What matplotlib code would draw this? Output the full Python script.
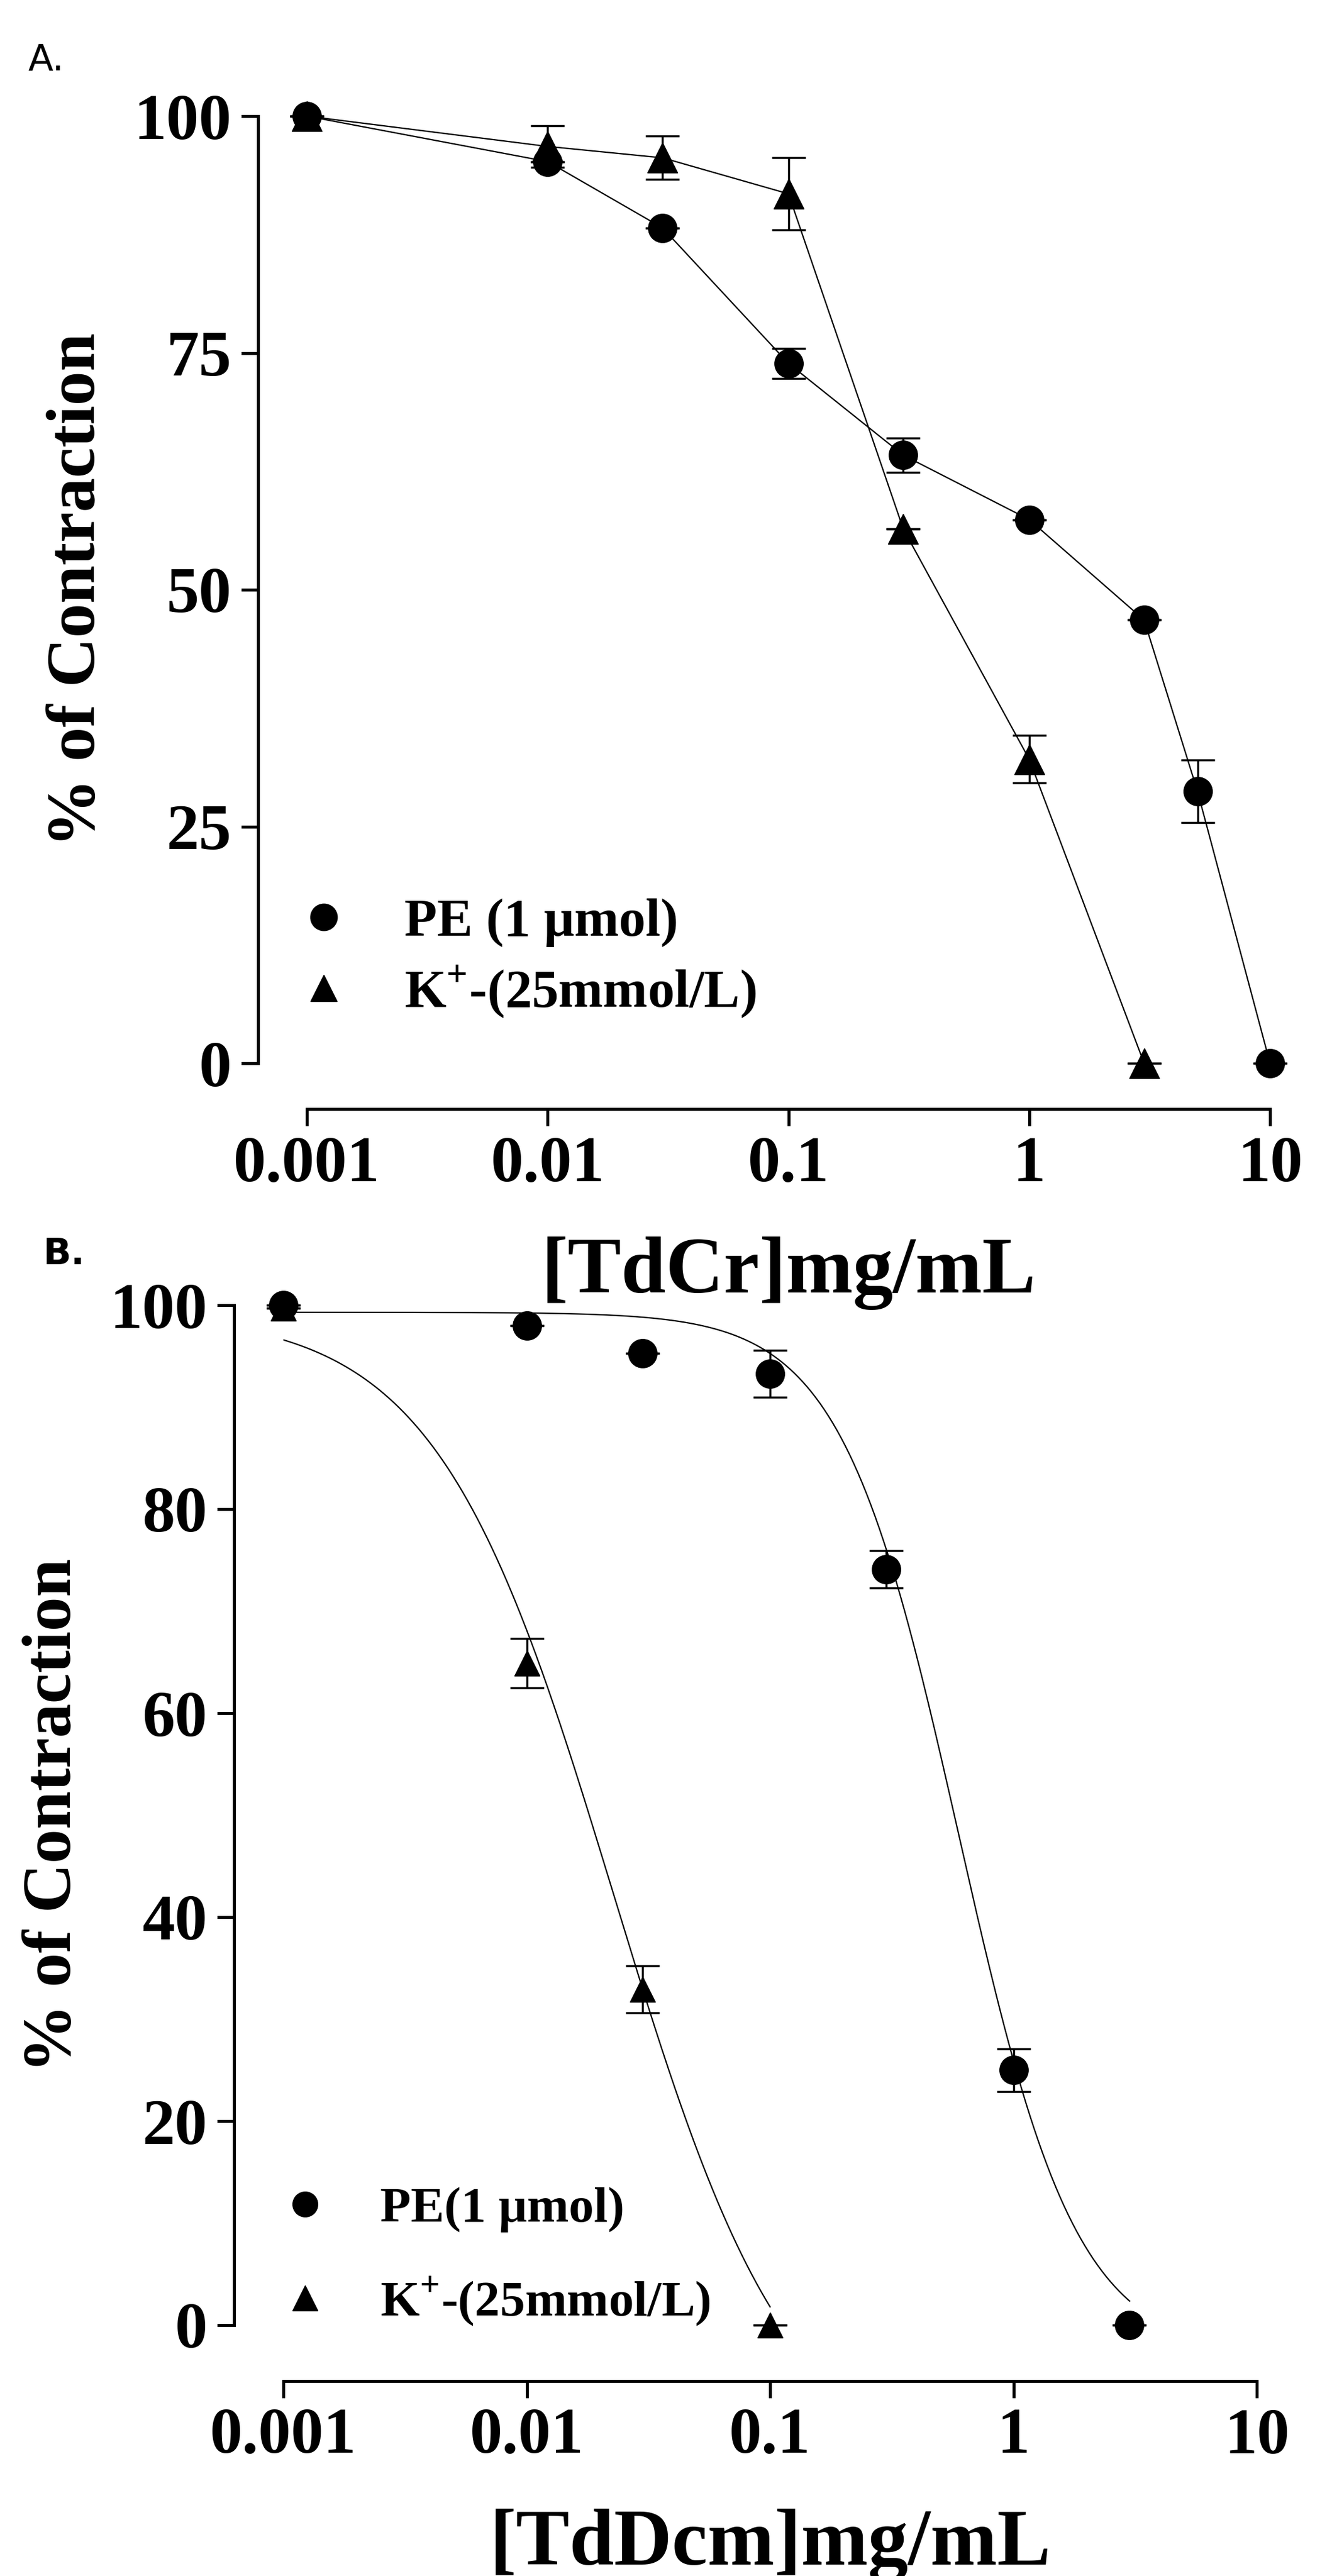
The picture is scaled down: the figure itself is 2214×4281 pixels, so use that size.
import numpy as np
import matplotlib
matplotlib.use("Agg")
import matplotlib.pyplot as plt

plt.rcParams['font.family'] = ['Liberation Serif', 'DejaVu Serif']
plt.rcParams['font.weight'] = 'bold'
plt.rcParams['mathtext.fontset'] = 'custom'
plt.rcParams['mathtext.rm'] = 'Liberation Serif:bold'
plt.rcParams['mathtext.bf'] = 'Liberation Serif:bold'

# Panel A data
a_pe_x = [0.001, 0.01, 0.03, 0.1, 0.3, 1, 3, 5, 10]
a_pe_y = [100, 95.2, 88.2, 73.9, 64.2, 57.4, 46.8, 28.7, 0]
a_pe_err = [0, 0, 0, 1.6, 1.8, 0, 0, 3.3, 0]
a_k_x = [0.001, 0.01, 0.03, 0.1, 0.3, 1, 3]
a_k_y = [100, 96.8, 95.6, 91.8, 56.4, 32.1, 0]
a_k_err = [0, 2.2, 2.3, 3.8, 0, 2.5, 0]

# Panel B data
b_pe_x = [0.001, 0.01, 0.03, 0.1, 0.3, 1, 3]
b_pe_y = [100, 98, 95.3, 93.3, 74.1, 25, 0]
b_pe_err = [0, 0, 0, 2.3, 1.8, 2.1, 0]
b_k_x = [0.001, 0.01, 0.03, 0.1]
b_k_y = [99.7, 64.9, 32.9, 0]
b_k_err = [0, 2.4, 2.3, 0]

# fitted curve parameters (top, bottom, IC50, hill)
b_pe_fit = [99.3, -3, 0.595, 1.79]
b_k_fit = [99.3, -15, 0.0228, 1.19]

def hill(x, p):
    top, bot, c, h = p
    return bot + (top - bot) / (1 + (x / c) ** h)

W, H = 2214, 4281
fig = plt.figure(figsize=(W / 100, H / 100), dpi=100)

def style(ax, yticks, left_out, bot_out):
    ax.set_xscale('log')
    ax.set_xlim(0.001, 10)
    ax.set_ylim(0, 100)
    for s in ['top', 'right']:
        ax.spines[s].set_visible(False)
    ax.spines['left'].set_position(('outward', left_out))
    ax.spines['bottom'].set_position(('outward', bot_out))
    ax.spines['left'].set_bounds(0, 100)
    ax.spines['bottom'].set_bounds(0.001, 10)
    for s in ['left', 'bottom']:
        ax.spines[s].set_linewidth(3.6)
    ax.set_xticks([0.001, 0.01, 0.1, 1, 10])
    ax.set_xticklabels(['0.001', '0.01', '0.1', '1', '10'])
    ax.minorticks_off()
    ax.set_yticks(yticks)
    ax.tick_params(axis='both', length=20, width=3.6, labelsize=78, pad=12)
    for lab in ax.get_xticklabels() + ax.get_yticklabels():
        lab.set_fontweight('bold')
    ax.patch.set_visible(False)

ms = 36
# Panel A
axA = fig.add_axes([510 / W, 1 - 1767 / H, 1601 / W, 1574 / H])
style(axA, [0, 25, 50, 75, 100], 58, 55)
axA.errorbar(a_pe_x, a_pe_y, yerr=a_pe_err, fmt='-o', color='black', ms=ms * 0.95,
             lw=1.6, elinewidth=2.5, capsize=20, capthick=2.5, clip_on=False, zorder=3)
axA.errorbar(a_k_x, a_k_y, yerr=a_k_err, fmt='-^', color='black', ms=ms,
             lw=1.6, elinewidth=2.5, capsize=20, capthick=2.5, clip_on=False, zorder=3)
axA.set_ylabel('% of Contraction', fontsize=82, fontweight='bold', labelpad=30)
axA.set_xlabel('[TdCr]mg/mL', fontsize=96, fontweight='bold', labelpad=50)
axA.plot([], [], 'o', color='black', ms=32, label='PE (1 μmol)')
axA.plot([], [], '^', color='black', ms=32, label=r'K$^{+}$-(25mmol/L)')
hA, lA = axA.get_legend_handles_labels()
axA.legend(hA[-2:], lA[-2:], loc='upper left', bbox_to_anchor=(-0.06, 0.225),
           frameon=False, handlelength=1.0, handletextpad=1.0, labelspacing=0.3,
           prop={'family': 'Liberation Serif', 'weight': 'bold', 'size': 64})
fig.text(47 / W, 1 - 100 / H, 'A.', fontsize=44, family='DejaVu Sans', fontweight='normal', va='center')

# Panel B
axB = fig.add_axes([471 / W, 1 - 3864 / H, 1618 / W, 1695 / H])
style(axB, [0, 20, 40, 60, 80, 100], 59, 67)
xs = np.logspace(-3, np.log10(3), 400)
xk = np.logspace(-3, -1, 400)
axB.plot(xs, hill(xs, b_pe_fit), color='black', lw=1.6)
axB.plot(xk, hill(xk, b_k_fit), color='black', lw=1.6)
axB.errorbar(b_pe_x, b_pe_y, yerr=b_pe_err, fmt='o', color='black', ms=ms * 0.95,
             elinewidth=2.5, capsize=20, capthick=2.5, clip_on=False, zorder=3)
axB.errorbar(b_k_x, b_k_y, yerr=b_k_err, fmt='^', color='black', ms=ms * 0.85,
             elinewidth=2.5, capsize=20, capthick=2.5, clip_on=False, zorder=3)
axB.set_ylabel('% of Contraction', fontsize=82, fontweight='bold', labelpad=30)
axB.set_xlabel('[TdDcm]mg/mL', fontsize=96, fontweight='bold', labelpad=50)
axB.plot([], [], 'o', color='black', ms=30, label='PE(1 μmol)')
axB.plot([], [], '^', color='black', ms=30, label=r'K$^{+}$-(25mmol/L)')
hB, lB = axB.get_legend_handles_labels()
axB.legend(hB[-2:], lB[-2:], loc='upper left', bbox_to_anchor=(-0.05, 0.18),
           frameon=False, handlelength=1.0, handletextpad=1.0, labelspacing=0.85,
           prop={'family': 'Liberation Serif', 'weight': 'bold', 'size': 60})
fig.text(71 / W, 1 - 2085 / H, 'B.', fontsize=44, family='DejaVu Sans', fontweight='bold', va='center')

fig.savefig('out.png', dpi=100)
